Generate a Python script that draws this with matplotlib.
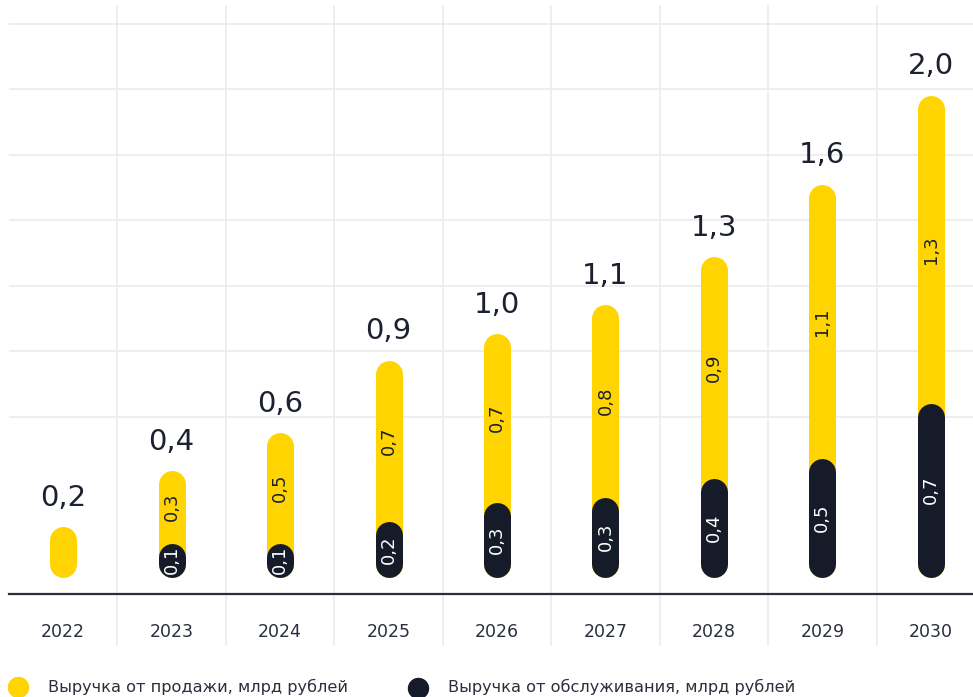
import matplotlib
matplotlib.use("Agg")
import matplotlib.pyplot as plt
from matplotlib.lines import Line2D
from matplotlib.transforms import blended_transform_factory

# ---------------- data ----------------
years = ["2022", "2023", "2024", "2025", "2026", "2027", "2028", "2029", "2030"]
service = [0.00, 0.14, 0.14, 0.23, 0.31, 0.33, 0.41, 0.49, 0.72]   # dark segment
sales = [0.21, 0.30, 0.46, 0.67, 0.70, 0.80, 0.92, 1.14, 1.28]     # yellow segment
legend_labels = ["Выручка от продажи, млрд рублей", "Выручка от обслуживания, млрд рублей"]

# ---------------- style ----------------
YELLOW = "#FFD400"
DARK = "#151B28"
TEXT = "#1b2130"
GRID = "#ebebeb"
W, H, DPI = 973, 697, 100

plt.rcParams["font.family"] = ["DejaVu Sans"]

fig = plt.figure(figsize=(W / DPI, H / DPI), dpi=DPI)

# pixel geometry of the plotting area
px_left, px_right = 9, 985
px_top, px_axis = 6, 594
px_zero = 577
px_per_unit = 241.0

ax = fig.add_axes([px_left / W, (H - px_axis) / H,
                   (px_right - px_left) / W, (px_axis - px_top) / H])
ylo = -(px_axis - px_zero) / px_per_unit
yhi = (px_zero - px_top) / px_per_unit
ax.set_xlim(-0.5, len(years) - 0.5)
ax.set_ylim(ylo, yhi)

for s in ["top", "right", "left"]:
    ax.spines[s].set_visible(False)
ax.spines["bottom"].set_color("#2a2f3d")
ax.spines["bottom"].set_linewidth(1.6)
ax.spines["bottom"].set_position(("data", ylo))

# horizontal gridlines (pixel rows in reference)
grid_px = [24, 89, 155, 220, 286, 351, 417]
for gp in grid_px:
    ax.axhline((px_zero - gp) / px_per_unit, color=GRID, lw=1.2, zorder=0)

# vertical separators extending below the axis
bt = blended_transform_factory(ax.transData, ax.transAxes)
y_bottom_frac = -(645 - px_axis) / (px_axis - px_top)
for i in range(len(years) - 1):
    ax.plot([i + 0.5, i + 0.5], [y_bottom_frac, 1.0], color=GRID, lw=1.2,
            transform=bt, clip_on=False, zorder=0)

# rounded bars via round-capped thick lines
bar_px = 27.0
lw_pt = bar_px * 72 / DPI
r = (bar_px / 2) / px_per_unit

def fmt(v):
    return f"{v:.1f}".replace(".", ",")

for i, (sv, sl) in enumerate(zip(service, sales)):
    total = sv + sl
    ax.plot([i, i], [r, total - r], color=YELLOW, lw=lw_pt,
            solid_capstyle="round", zorder=3)
    if sv > 0:
        ax.plot([i, i], [r, sv - r], color=DARK, lw=lw_pt,
                solid_capstyle="round", zorder=4)
        ax.text(i, sv + sl / 2, fmt(sl), rotation=90, ha="center", va="center",
                fontsize=13, color=TEXT, zorder=5)
        ax.text(i, sv / 2, fmt(sv), rotation=90, ha="center", va="center",
                fontsize=13, color="white", zorder=5)
    ax.annotate(fmt(total), (i, total), xytext=(0, 15), textcoords="offset points",
                ha="center", va="baseline", fontsize=21, color=TEXT, zorder=5)

ax.set_yticks([])
ax.set_xticks(range(len(years)))
ax.set_xticklabels(years, fontsize=12.5, color="#2a2f3d")
ax.tick_params(axis="x", length=0, pad=21)

# legend (manual, bottom row)
legend_items = [(18, 687, 48, YELLOW), (418, 688, 448, DARK)]
for (mx, my, tx, col), lab in zip(legend_items, legend_labels):
    fig.add_artist(Line2D([mx / W], [(H - my) / H], marker="o", markersize=20 * 72 / DPI,
                          color=col, transform=fig.transFigure, linestyle="none"))
    fig.text(tx / W, (H - 692) / H, lab, ha="left", va="baseline", fontsize=11.6,
             color="#2a2f3d")

fig.savefig("out.png", dpi=DPI)
